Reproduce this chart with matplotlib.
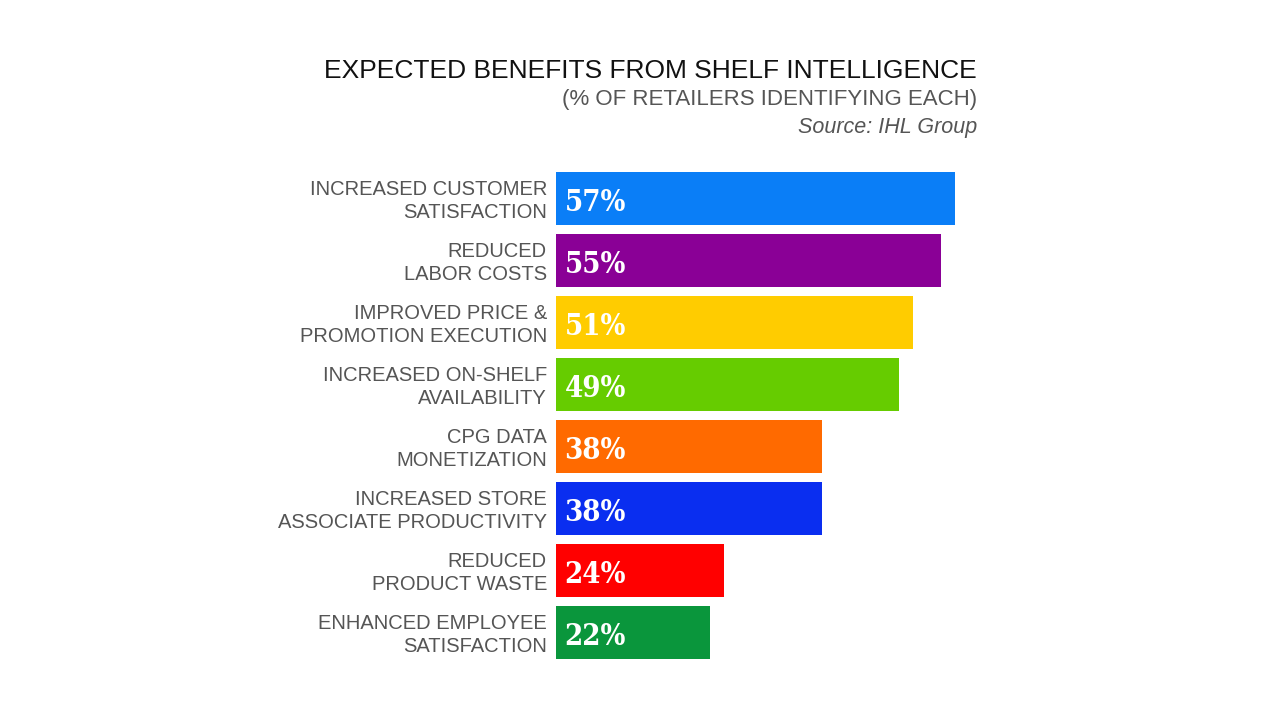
import matplotlib
matplotlib.use("Agg")
import matplotlib.pyplot as plt

# data
labels = [
    "INCREASED CUSTOMER\nSATISFACTION",
    "REDUCED\nLABOR COSTS",
    "IMPROVED PRICE &\nPROMOTION EXECUTION",
    "INCREASED ON-SHELF\nAVAILABILITY",
    "CPG DATA\nMONETIZATION",
    "INCREASED STORE\nASSOCIATE PRODUCTIVITY",
    "REDUCED\nPRODUCT WASTE",
    "ENHANCED EMPLOYEE\nSATISFACTION",
]
values = [57, 55, 51, 49, 38, 38, 24, 22]
colors = ["#0a7ef7", "#8a0096", "#ffcc00", "#66cc00",
          "#ff6a00", "#0a2ef0", "#ff0000", "#0a963c"]

sans = "Liberation Sans"

fig = plt.figure(figsize=(12.8, 7.2), dpi=100)
# axes placed so 0% sits at x=556px, 7px per percent
ax = fig.add_axes([556 / 1280, 1 - 659 / 720, 420 / 1280, 487 / 720])

ypos = list(range(len(values)))
ax.barh(ypos, values, height=0.85, color=colors)
ax.set_xlim(0, 60)
ax.set_ylim(len(values) - 1 + 0.425, -0.425)
ax.axis("off")

for y, v, lab in zip(ypos, values, labels):
    ax.text(1.2, y + 0.06, f"{v}%", color="white", fontsize=21, fontweight="bold",
            family="DejaVu Serif", stretch="condensed", va="center", ha="left")
    ax.text(-1.3, y + 0.04, lab, color="#555555", fontsize=14.5, family=sans,
            va="center", ha="right", linespacing=1.3)

fig.text(977 / 1280, 1 - 71 / 720, "EXPECTED BENEFITS FROM SHELF INTELLIGENCE",
         fontsize=19, family=sans, color="#111111", ha="right", va="center")
fig.text(977 / 1280, 1 - 100 / 720, "(% OF RETAILERS IDENTIFYING EACH)",
         fontsize=16, family=sans, color="#555555", ha="right", va="center")
fig.text(977 / 1280, 1 - 127 / 720, "Source: IHL Group",
         fontsize=15.5, family=sans, style="italic", color="#555555",
         ha="right", va="center")

fig.savefig("out.png", dpi=100, facecolor="white")
